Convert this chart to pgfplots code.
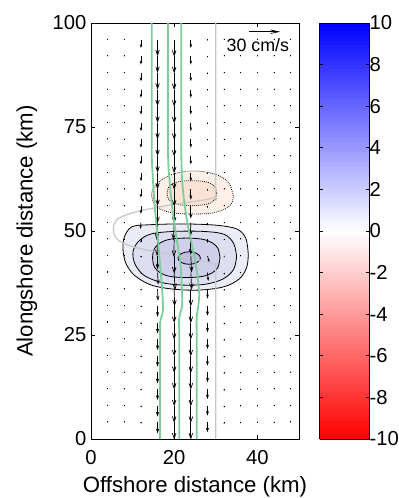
\documentclass[border=0pt]{standalone}
\usepackage{fontspec}
\setmainfont{Liberation Sans}
\usepackage{pgfplots}
\pgfplotsset{compat=1.18}
\usepackage{pgfplotstable}
\usetikzlibrary{arrows.meta}
\definecolor{bla}{RGB}{236,236,247}
\definecolor{blb}{RGB}{222,222,241}
\definecolor{blc}{RGB}{207,207,235}
\definecolor{bld}{RGB}{188,188,228}
\definecolor{pka}{RGB}{253,240,233}
\definecolor{pkb}{RGB}{251,226,213}
\definecolor{grn}{RGB}{125,205,155}
\definecolor{gry}{RGB}{200,200,200}
\newcommand\tickfont{\fontsize{20.3}{22}\selectfont}
\newcommand\labelfont{\fontsize{22.3}{24}\selectfont}
\newcommand\smallfont{\fontsize{17.9}{20}\selectfont}

\pgfplotstableread[row sep=\\]{
x y u v\\
4 96 0 -0.4\\ 8 96 0 -0.5\\ 12 96 0 -8\\ 16 96 0 -16\\ 20 96 0 -16.5\\ 24 96 0 -8\\ 28 96 0 -1.2\\ 32 96 0 -0.5\\ 36 96 0 -0.4\\ 40 96 0 -0.4\\ 44 96 0 -0.4\\ 48 96 0 -0.4\\
4 92 0 -0.4\\ 8 92 0 -0.5\\ 12 92 0 -8\\ 16 92 0 -16\\ 20 92 0 -16.5\\ 24 92 0 -8\\ 28 92 0 -1.2\\ 32 92 0 -0.5\\ 36 92 0 -0.4\\ 40 92 0 -0.4\\ 44 92 0 -0.4\\ 48 92 0 -0.4\\
4 88 0 -0.4\\ 8 88 0 -0.5\\ 12 88 0 -8\\ 16 88 0 -16\\ 20 88 0 -16.5\\ 24 88 0 -8\\ 28 88 0 -1.2\\ 32 88 0 -0.5\\ 36 88 0 -0.4\\ 40 88 0 -0.4\\ 44 88 0 -0.4\\ 48 88 0 -0.4\\
4 84 0 -0.4\\ 8 84 0 -0.5\\ 12 84 0 -8\\ 16 84 0 -16\\ 20 84 0 -16.5\\ 24 84 0 -8\\ 28 84 0 -1.2\\ 32 84 0 -0.5\\ 36 84 0 -0.4\\ 40 84 0 -0.4\\ 44 84 0 -0.4\\ 48 84 0 -0.4\\
4 80 0 -0.4\\ 8 80 0 -0.5\\ 12 80 0 -8\\ 16 80 0 -16\\ 20 80 0 -16.5\\ 24 80 0 -8\\ 28 80 0 -1.2\\ 32 80 0 -0.5\\ 36 80 0 -0.4\\ 40 80 0 -0.4\\ 44 80 0 -0.4\\ 48 80 0 -0.4\\
4 76 0 -0.4\\ 8 76 0 -0.5\\ 12 76 0 -8\\ 16 76 0 -16\\ 20 76 0 -16.5\\ 24 76 0 -8\\ 28 76 0 -1.2\\ 32 76 0 -0.5\\ 36 76 0 -0.4\\ 40 76 0 -0.4\\ 44 76 0 -0.4\\ 48 76 0 -0.4\\
4 72 0 -0.4\\ 8 72 0 -0.5\\ 12 72 0 -8\\ 16 72 0 -16\\ 20 72 0 -16.5\\ 24 72 0 -8\\ 28 72 0 -1.2\\ 32 72 0 -0.5\\ 36 72 0 -0.4\\ 40 72 0 -0.4\\ 44 72 0 -0.4\\ 48 72 0 -0.4\\
4 68 0 -0.4\\ 8 68 0 -0.5\\ 12 68 0 -8\\ 16 68 0 -16\\ 20 68 0 -16.5\\ 24 68 0 -8\\ 28 68 0 -1.2\\ 32 68 0 -0.5\\ 36 68 0 -0.4\\ 40 68 0 -0.4\\ 44 68 0 -0.4\\ 48 68 0 -0.4\\
4 64 0 -0.4\\ 8 64 0 -0.5\\ 12 64 0 -8\\ 16 64 0 -16\\ 20 64 0 -16.5\\ 24 64 0 -8.5\\ 28 64 0 -1.2\\ 32 64 0 -0.5\\ 36 64 0 -0.4\\ 40 64 0 -0.4\\ 44 64 0 -0.4\\ 48 64 0 -0.4\\
4 60 0 -0.4\\ 8 60 0 -0.5\\ 12 60 0 -8\\ 16 60 0 -16\\ 20 60 0 -16.5\\ 24 60 0 -10\\ 28 60 0 -1.5\\ 32 60 0 -0.5\\ 36 60 0 -0.4\\ 40 60 0 -0.4\\ 44 60 0 -0.4\\ 48 60 0 -0.4\\
4 56 0 -0.4\\ 8 56 0 -0.6\\ 12 56 0 -7.5\\ 16 56 0 -16.5\\ 20 56 0 -17\\ 24 56 0 -12\\ 28 56 0 -2\\ 32 56 0 -0.6\\ 36 56 0 -0.4\\ 40 56 0 -0.4\\ 44 56 0 -0.4\\ 48 56 0 -0.4\\
4 52 0 -0.4\\ 8 52 0 -0.8\\ 12 52 -0.5 -6\\ 16 52 -0.8 -16.5\\ 20 52 -0.8 -17\\ 24 52 -0.5 -13.5\\ 28 52 0 -2.5\\ 32 52 0 -0.8\\ 36 52 0 -0.5\\ 40 52 0 -0.4\\ 44 52 0 -0.4\\ 48 52 0 -0.4\\
4 48 0 -0.4\\ 8 48 0 -0.8\\ 12 48 0 -3.5\\ 16 48 -0.5 -16\\ 20 48 -0.3 -17\\ 24 48 0 -15\\ 28 48 0 -3.5\\ 32 48 0 -1\\ 36 48 0 -0.5\\ 40 48 0 -0.4\\ 44 48 0 -0.4\\ 48 48 0 -0.4\\
4 44 0 -0.3\\ 8 44 0 -0.6\\ 12 44 0 -1.8\\ 16 44 0 -13\\ 20 44 0 -17\\ 24 44 0.8 -16\\ 28 44 1.8 -6\\ 32 44 0.5 -1.5\\ 36 44 0 -0.6\\ 40 44 0 -0.5\\ 44 44 0 -0.4\\ 48 44 0 -0.4\\
4 40 0 -0.3\\ 8 40 0 -0.5\\ 12 40 0 -1.5\\ 16 40 0.6 -11.5\\ 20 40 0.8 -17\\ 24 40 0.8 -16.5\\ 28 40 0.8 -8\\ 32 40 0 -2\\ 36 40 0 -0.8\\ 40 40 0 -0.6\\ 44 40 0 -0.5\\ 48 40 0 -0.4\\
4 36 0 -0.3\\ 8 36 0 -0.5\\ 12 36 0 -1.5\\ 16 36 0.4 -11\\ 20 36 0.4 -16.5\\ 24 36 0 -16.5\\ 28 36 0 -9\\ 32 36 0 -2\\ 36 36 0 -1\\ 40 36 0 -0.8\\ 44 36 0 -0.6\\ 48 36 0 -0.5\\
4 32 0 -0.3\\ 8 32 0 -0.5\\ 12 32 0 -1.5\\ 16 32 0 -10.5\\ 20 32 0 -16.5\\ 24 32 0 -16.5\\ 28 32 0 -9.5\\ 32 32 0 -2\\ 36 32 0 -1\\ 40 32 0 -0.8\\ 44 32 0 -0.6\\ 48 32 0 -0.5\\
4 28 0 -0.3\\ 8 28 0 -0.5\\ 12 28 0 -1.5\\ 16 28 0 -10.5\\ 20 28 0 -16.5\\ 24 28 0 -16.5\\ 28 28 0 -9.5\\ 32 28 0 -2\\ 36 28 0 -1\\ 40 28 0 -0.8\\ 44 28 0 -0.6\\ 48 28 0 -0.5\\
4 24 0 -0.3\\ 8 24 0 -0.5\\ 12 24 0 -1.5\\ 16 24 0 -10.5\\ 20 24 0 -16.5\\ 24 24 0 -16.5\\ 28 24 0 -9.5\\ 32 24 0 -2\\ 36 24 0 -1\\ 40 24 0 -0.8\\ 44 24 0 -0.6\\ 48 24 0 -0.5\\
4 20 0 -0.3\\ 8 20 0 -0.5\\ 12 20 0 -1.5\\ 16 20 0 -10.5\\ 20 20 0 -16.5\\ 24 20 0 -16.5\\ 28 20 0 -9.5\\ 32 20 0 -2\\ 36 20 0 -1\\ 40 20 0 -0.8\\ 44 20 0 -0.6\\ 48 20 0 -0.5\\
4 16 0 -0.3\\ 8 16 0 -0.5\\ 12 16 0 -1.5\\ 16 16 0 -10.5\\ 20 16 0 -16.5\\ 24 16 0 -16.5\\ 28 16 0 -9.5\\ 32 16 0 -2\\ 36 16 0 -1\\ 40 16 0 -0.8\\ 44 16 0 -0.6\\ 48 16 0 -0.5\\
4 12 0 -0.3\\ 8 12 0 -0.5\\ 12 12 0 -1.5\\ 16 12 0 -10.5\\ 20 12 0 -16.5\\ 24 12 0 -16.5\\ 28 12 0 -9.5\\ 32 12 0 -2\\ 36 12 0 -1\\ 40 12 0 -0.8\\ 44 12 0 -0.6\\ 48 12 0 -0.5\\
4 8 0 -0.3\\ 8 8 0 -0.5\\ 12 8 0 -1.5\\ 16 8 0 -10.5\\ 20 8 0 -16.5\\ 24 8 0 -16.5\\ 28 8 0 -9.5\\ 32 8 0 -2\\ 36 8 0 -1\\ 40 8 0 -0.8\\ 44 8 0 -0.6\\ 48 8 0 -0.5\\
4 4 0 -0.3\\ 8 4 0 -0.5\\ 12 4 0 -1.5\\ 16 4 0 -10.5\\ 20 4 0 -16.5\\ 24 4 0 -16.5\\ 28 4 0 -9.5\\ 32 4 0 -2\\ 36 4 0 -1\\ 40 4 0 -0.8\\ 44 4 0 -0.6\\ 48 4 0 -0.5\\
}\field

\pgfplotstableread[row sep=\\]{
x y u v\\
38 97.9 30 0\\
}\refarrow

\begin{document}
\begin{tikzpicture}
\useasboundingbox (-91bp,-59bp) rectangle (308bp,439bp);
% colorbar axis
\begin{axis}[hide axis, scale only axis, width=208bp, height=416bp,
  at={(0,0)}, anchor=south west, xmin=0, xmax=1, ymin=0, ymax=1,
  colormap={rwb}{rgb255=(255,0,0) rgb255=(255,255,255) rgb255=(0,0,255)},
  point meta min=-10, point meta max=10,
  colorbar sampled,
  colorbar style={scale only axis, width=50bp, height=416bp,
    samples=121,
    at={(parent axis.north east)}, anchor=north west, xshift=12bp,
    ytick={-10,-8,...,10}, ytick pos=both, yticklabel pos=right,
    tick align=inside, major tick length=3.5bp,
    tick style={black, line width=0.6bp},
    axis line style={line width=0.8bp},
    /pgf/number format/assume math mode=true,
    yticklabel style={font=\tickfont, xshift=-3.5bp}},
]
\addplot[draw=none, forget plot] coordinates {(0.5,0.5)};
\end{axis}
% main axis
\begin{axis}[scale only axis, width=208bp, height=416bp,
  at={(0,0)}, anchor=south west,
  xmin=0, xmax=50, ymin=0, ymax=100,
  xtick={0,20,40}, ytick={0,25,50,75,100},
  tick align=inside, major tick length=4bp,
  tick style={black, line width=0.6bp},
  axis line style={line width=0.8bp},
  /pgf/number format/assume math mode=true,
  xticklabel style={font=\tickfont, yshift=-8bp},
  yticklabel style={font=\tickfont, xshift=-1.2bp},
  xlabel={Offshore distance (km)}, ylabel={Alongshore distance (km)},
  label style={font=\labelfont},
  xlabel style={at={(axis description cs:0.5,-0.1142)}, anchor=center},
  ylabel style={at={(axis description cs:-0.3077,0.5)}, anchor=center},
  point meta min=0, point meta max=30,
]
% blue contours (positive)
\addplot[fill=bla, draw=black, line width=0.8bp, smooth, tension=0.55] coordinates {
(37.8,44.5) (37.2,48.3) (35,50.5) (30,51.4) (22,51.7) (14,51.5) (9.8,51.0) (8.0,48.5) (7.7,45.5) (8.4,42.2) (10.5,39.3) (14.5,37) (20,36) (26,35.8) (32,36.6) (35.8,38.6) (37.5,41.5) (37.8,44.5)};
\addplot[fill=blb, draw=black, line width=0.8bp, smooth, tension=0.55] coordinates {
(35,43.8) (34.3,47) (32,49.2) (27,49.9) (20,49.9) (14.5,49.3) (11.5,47.6) (10.1,45) (10.6,42) (12.8,39.3) (17,37.6) (22,37) (27.5,37.2) (31.8,38.5) (34.3,40.8) (35,43.8)};
\addplot[fill=blc, draw=black, line width=0.8bp, smooth, tension=0.55] coordinates {
(31,43.55) (30.52,45.82) (29.1,47.19) (26.77,48.02) (22.9,48.3) (19.03,48.02) (16.7,47.19) (15.28,45.82) (14.8,43.55) (15.28,41.28) (16.7,39.91) (19.03,39.08) (22.9,38.8) (26.77,39.08) (29.1,39.91) (30.52,41.28) (31,43.55)};
\addplot[fill=bld, draw=black, line width=0.8bp, smooth, tension=0.55] coordinates {
(26.3,43.5) (26.09,44.07) (25.51,44.56) (24.63,44.89) (23.6,45) (22.57,44.89) (21.69,44.56) (21.11,44.07) (20.9,43.5) (21.11,42.93) (21.69,42.44) (22.57,42.11) (23.6,42) (24.63,42.11) (25.51,42.44) (26.09,42.93) (26.3,43.5)};
% pink contours (negative)
\addplot[fill=pka, draw=black, line width=0.8bp, dash pattern=on 0.8bp off 1.2bp, smooth, tension=0.55] coordinates {
(34.2,58.5) (33.3,61.3) (31,63.2) (27.5,64.2) (23.5,64.4) (19.5,63.6) (16.3,61.8) (14.6,59.3) (15.2,56.6) (17.5,54.9) (21,54.2) (25,54.1) (29,54.3) (32.3,55.3) (33.9,56.8) (34.2,58.5)};
\addplot[fill=pkb, draw=black, line width=0.8bp, dash pattern=on 0.8bp off 1.2bp, smooth, tension=0.55] coordinates {
(30.2,59.1) (29.85,60.53) (28.81,61.4) (27.09,61.92) (24.25,62.1) (21.41,61.92) (19.69,61.4) (18.65,60.53) (18.3,59.1) (18.65,57.67) (19.69,56.8) (21.41,56.28) (24.25,56.1) (27.09,56.28) (28.81,56.8) (29.85,57.67) (30.2,59.1)};
% gray line
\addplot[gry, line width=1.3bp, smooth, tension=0.4] coordinates {
(30,100) (30,60) (30,58.3) (28,57.6) (24,57) (20,56.4) (16,55.7) (12,54.9) (8.5,53.9) (6.3,52.8) (5.4,51) (5.6,49) (6.8,47.6) (9.5,46.4) (13,45.5) (17.5,44.7) (22,43.9) (26,43) (29.3,42.2) (30,41.5) (30,40) (30,0)};
% velocity arrows
\addplot[black, line width=0.7bp,
  point meta={sqrt(\thisrow{u}^2+\thisrow{v}^2)},
  quiver={u=\thisrow{u}, v=\thisrow{v}, scale arrows=0.25,
    every arrow/.code={%
      \pgfmathsetlengthmacro\hl{\pgfplotspointmetatransformed*0.0095bp}%
      \pgfmathsetlengthmacro\hw{\pgfplotspointmetatransformed*0.0065bp}%
      \edef\tmp{\noexpand\pgfkeysalso{/tikz/arrows={-{Straight Barb[length=\hl,width=\hw]}}}}\tmp}}]
  table[x=x, y=y] {\field};
% reference arrow
\addplot[black, line width=0.7bp,
  point meta={sqrt(\thisrow{u}^2+\thisrow{v}^2)},
  quiver={u=\thisrow{u}, v=\thisrow{v}, scale arrows=0.25,
    every arrow/.code={%
      \edef\tmp{\noexpand\pgfkeysalso{/tikz/arrows={-{Straight Barb[length=8bp,width=3.5bp]}}}}\tmp}}]
  table[x=x, y=y] {\refarrow};
% green lines
\addplot[grn, line width=1.8bp, smooth, tension=0.5] coordinates {
(14.6,100) (14.6,70) (14.8,64) (15.3,56) (15.9,50) (16.5,43) (17.1,36) (17.3,31) (16.7,28.5) (16.6,25) (16.6,0)};
\addplot[grn, line width=1.8bp, smooth, tension=0.5] coordinates {
(18.5,100) (18.5,70) (18.9,62) (19.6,55) (20.6,48) (21.5,42) (21.9,35) (21.9,32) (21.2,29) (21.2,25) (21.2,0)};
\addplot[grn, line width=1.8bp, smooth, tension=0.5] coordinates {
(21.7,100) (21.7,70) (22,61) (23,53) (24.4,46) (25.5,40) (26,35) (25.8,32) (25.4,29) (25.4,25) (25.4,0)};
\node[font=\smallfont, anchor=center] at (axis cs:40.1,94.7) {30 cm/s};
\end{axis}
\end{tikzpicture}
\end{document}
